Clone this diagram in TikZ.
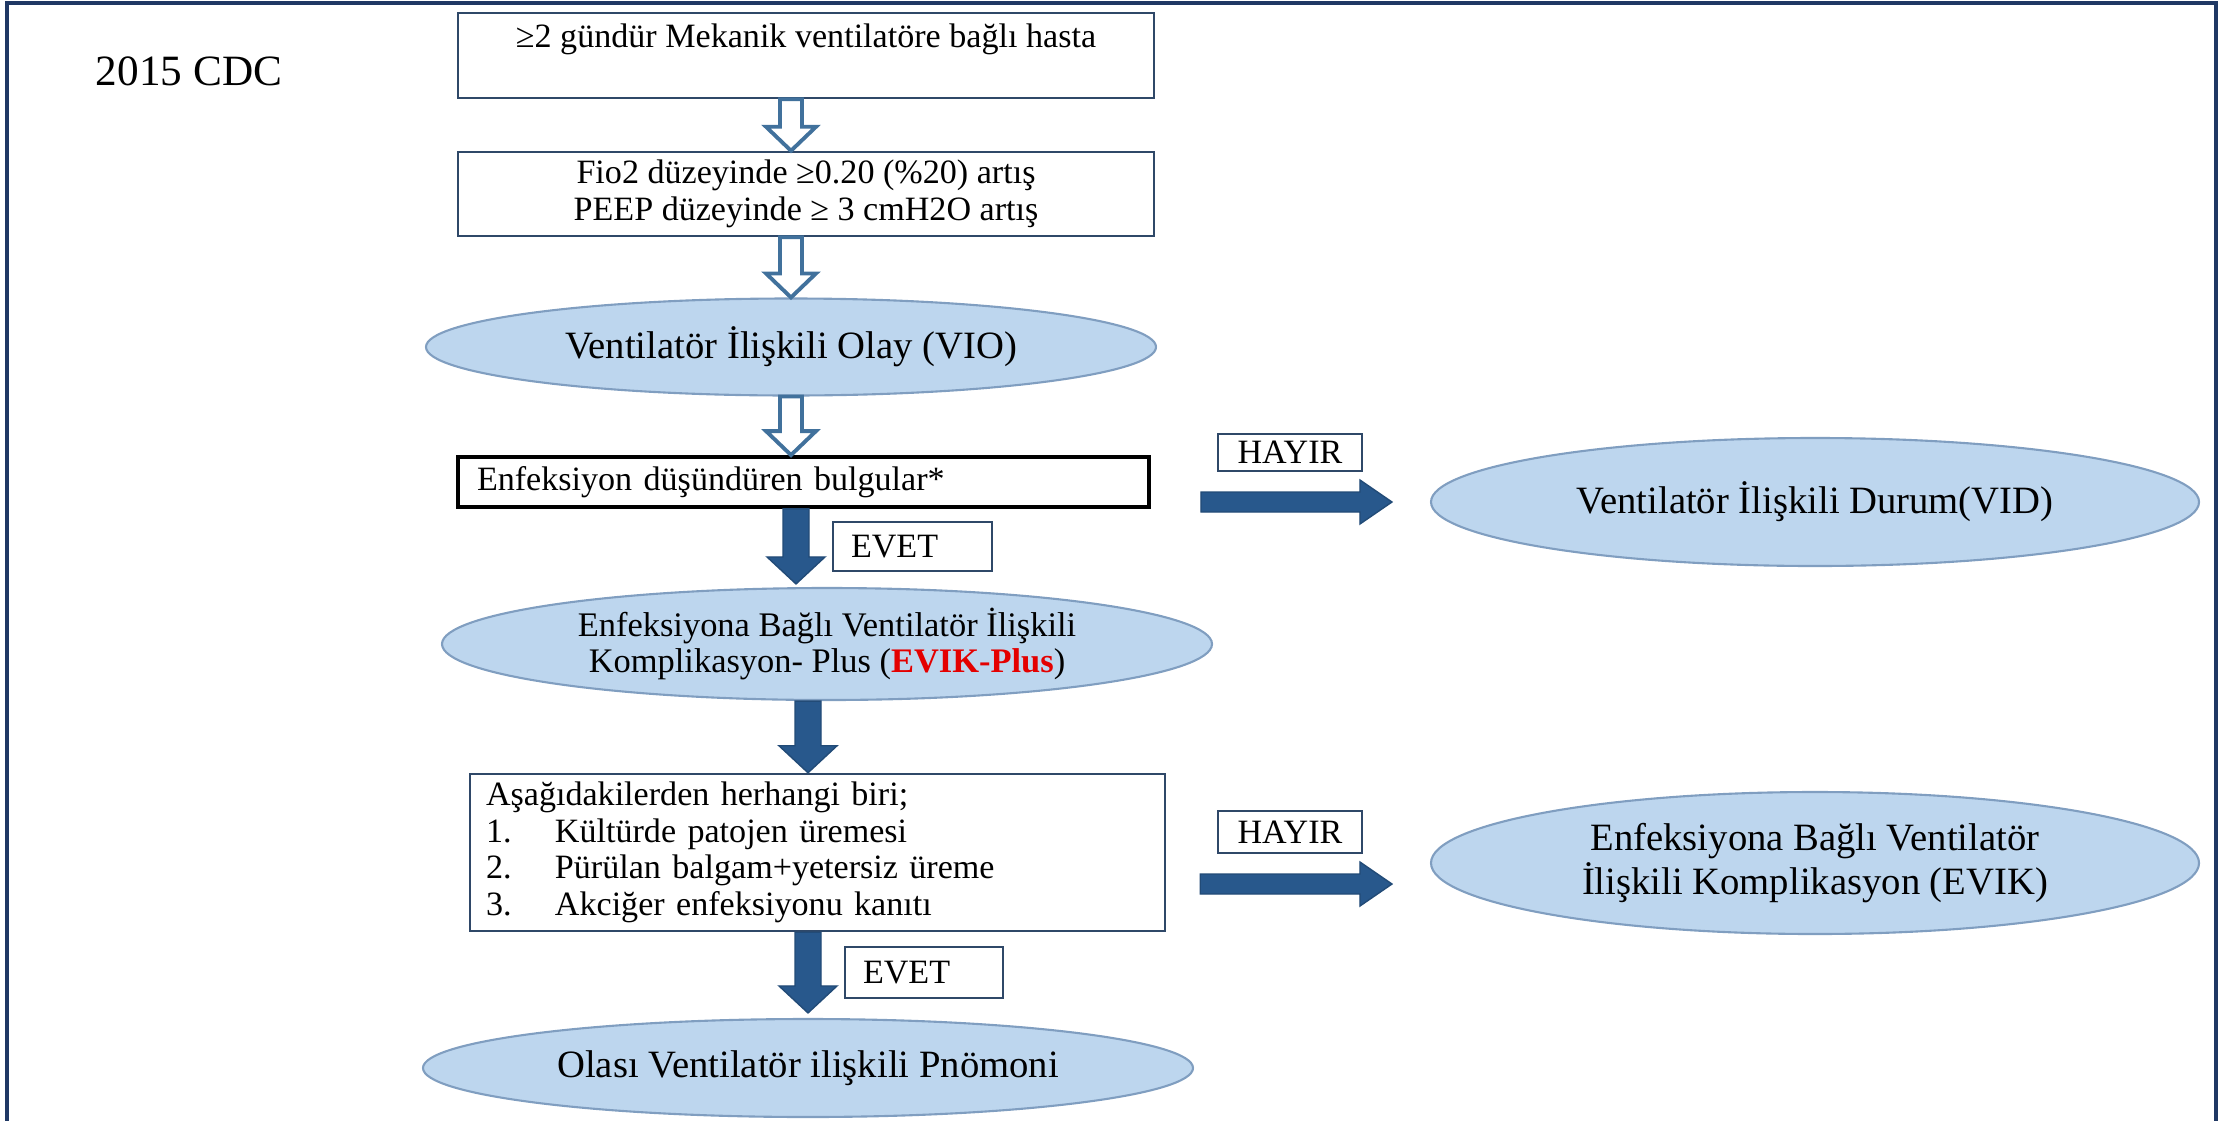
\documentclass[tikz,border=0pt]{standalone}
\usepackage{fontspec}
\setmainfont{Liberation Serif}
\usetikzlibrary{positioning, calc, shapes.geometric}

\definecolor{boxline}{RGB}{47,72,104}
\definecolor{ellfill}{RGB}{189,214,238}
\definecolor{ellline}{RGB}{128,158,192}
\definecolor{arrowblue}{RGB}{40,88,140}
\definecolor{hollowline}{RGB}{65,113,156}
\definecolor{framecol}{RGB}{31,56,100}
\definecolor{evikred}{RGB}{228,0,0}

\begin{document}
\begin{tikzpicture}[
		flowbox/.style={rectangle, draw=boxline, line width=0.7pt, inner sep=0pt, font=\fontsize{9.7}{10.4}\selectfont},
		answer/.style={rectangle, draw=boxline, line width=0.6pt, inner sep=0pt, font=\fontsize{9.7}{11}\selectfont},
		outcome/.style={ellipse, draw=ellline, line width=0.6pt, fill=ellfill, inner sep=0pt, align=center, font=\fontsize{11}{11}\selectfont},
		hollowdown/.style={draw=hollowline, line width=1.1pt, fill=white, line join=miter,
			to path={($(\tikztostart)+(-0.11,0)$) -- ($(\tikztotarget)+(-0.11,0.24)$) -- ($(\tikztotarget)+(-0.25,0.24)$) -- (\tikztotarget) -- ($(\tikztotarget)+(0.25,0.24)$) -- ($(\tikztotarget)+(0.11,0.24)$) -- ($(\tikztostart)+(0.11,0)$) -- cycle}},
		soliddown/.style={draw=arrowblue!85!black, line width=0.4pt, fill=arrowblue, line join=miter,
			to path={($(\tikztostart)+(-0.13,0)$) -- ($(\tikztotarget)+(-0.13,0.27)$) -- ($(\tikztotarget)+(-0.29,0.27)$) -- (\tikztotarget) -- ($(\tikztotarget)+(0.29,0.27)$) -- ($(\tikztotarget)+(0.13,0.27)$) -- ($(\tikztostart)+(0.13,0)$) -- cycle}},
		solidright/.style={draw=arrowblue!85!black, line width=0.4pt, fill=arrowblue, line join=miter,
			to path={($(\tikztostart)+(0,0.1)$) -- ($(\tikztotarget)+(-0.32,0.1)$) -- ($(\tikztotarget)+(-0.32,0.22)$) -- (\tikztotarget) -- ($(\tikztotarget)+(-0.32,-0.22)$) -- ($(\tikztotarget)+(-0.32,-0.1)$) -- ($(\tikztostart)+(0,-0.1)$) -- cycle}}
	]
			\useasboundingbox (0,0) rectangle (22.32,-11.2);
			\draw[framecol, line width=1.2pt] (0.07,-11.3) -- (0.07,-0.03) -- (22.16,-0.03) -- (22.16,-11.3);
			% Define the nodes
			\node (title) at (1.89,-0.71) [font=\fontsize{12.3}{14}\selectfont] {2015 CDC};
			\node (start) at (8.06,-0.555) [flowbox, minimum width=6.96cm, minimum height=0.85cm, text height=0.25cm, text depth=0.42cm] {≥2 gündür Mekanik ventilatöre bağlı hasta};
			\node (change) at (8.06,-1.94) [flowbox, minimum width=6.96cm, minimum height=0.84cm, align=center] {Fio2 düzeyinde ≥0.20 (\%20) artış\\PEEP düzeyinde ≥ 3 cmH2O artış};
			\node (vio) at (7.91,-3.47) [outcome, minimum width=7.30cm, minimum height=0.97cm] {Ventilatör İlişkili Olay (VIO)};
			\node (signs) at (8.035,-4.82) [flowbox, draw=black, line width=1.1pt, minimum height=0.50cm, inner xsep=0.19cm, text width=6.53cm, align=left] {Enfeksiyon düşündüren bulgular*};
			\node (evikplus) at (8.27,-6.44) [outcome, minimum width=7.70cm, minimum height=1.12cm, font=\fontsize{9.8}{10.3}\selectfont] {Enfeksiyona Bağlı Ventilatör İlişkili\\Komplikasyon- Plus (\textcolor{evikred}{\textbf{EVIK-Plus}})};
			\node (anyof) at (8.175,-8.525) [flowbox, minimum height=1.57cm, inner xsep=0.16cm, text width=6.63cm, align=left, font=\fontsize{9.7}{10.4}\selectfont] {Aşağıdakilerden herhangi biri;\\
				\makebox[0.69cm][l]{1.}Kültürde patojen üremesi\\
				\makebox[0.69cm][l]{2.}Pürülan balgam+yetersiz üreme\\
				\makebox[0.69cm][l]{3.}Akciğer enfeksiyonu kanıtı};
			\node (pneumonia) at (8.08,-10.68) [outcome, minimum width=7.70cm, minimum height=0.98cm] {Olası Ventilatör ilişkili Pnömoni};
			\node (vid) at (18.15,-5.02) [outcome, minimum width=7.68cm, minimum height=1.28cm] {Ventilatör İlişkili Durum(VID)};
			\node (evik) at (18.15,-8.63) [outcome, minimum width=7.68cm, minimum height=1.42cm] {Enfeksiyona Bağlı Ventilatör\\İlişkili Komplikasyon (EVIK)};
			\node (yes1) at (9.125,-5.465) [answer, minimum height=0.49cm, inner xsep=0.18cm, text width=1.23cm, align=left] {EVET};
			\node (yes2) at (9.24,-9.725) [answer, minimum height=0.51cm, inner xsep=0.18cm, text width=1.22cm, align=left] {EVET};
			\node (no1) at (12.90,-4.525) [answer, minimum width=1.44cm, minimum height=0.37cm] {HAYIR};
			\node (no2) at (12.90,-8.32) [answer, minimum width=1.44cm, minimum height=0.42cm] {HAYIR};
			\coordinate (no1s) at ($(signs.east |- vid.west)+(0.50,0)$);
			\coordinate (no1e) at ($(vid.west)+(-0.38,0)$);
			\coordinate (no2s) at ($(anyof.east |- evik.west)+(0.34,-0.21)$);
			\coordinate (no2e) at ($(evik.west)+(-0.38,-0.21)$);
			% Connect the nodes
			\draw [hollowdown] (start.south -| vio.north) to (change.north -| vio.north);
			\draw [hollowdown] (change.south -| vio.north) to (vio.north);
			\draw [hollowdown] (vio.south) to (signs.north -| vio.south);
			\draw [soliddown] ($(signs.south)+(-0.075,0)$) to ($(signs.south |- evikplus.north)+(-0.075,0.03)$);
			\draw [soliddown] (evikplus.south -| pneumonia.north) to (anyof.north -| pneumonia.north);
			\draw [soliddown] (anyof.south -| pneumonia.north) to ($(pneumonia.north)+(0,0.05)$);
			\draw [solidright] (no1s) to (no1e);
			\draw [solidright] (no2s) to (no2e);
		\end{tikzpicture}
\end{document}
